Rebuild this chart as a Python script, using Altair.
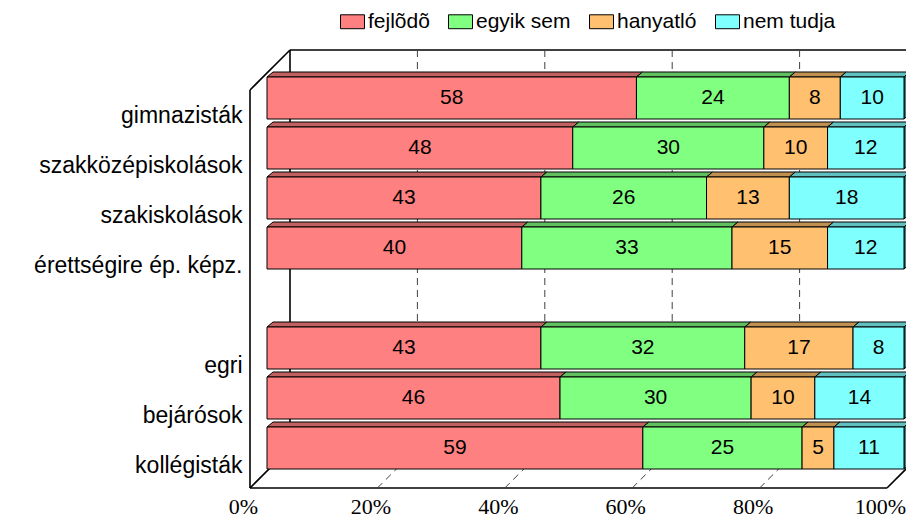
import json
import altair as alt
import pandas as pd

# ---------------- data ----------------
categories = ["gimnazisták", "szakközépiskolások", "szakiskolások",
              "érettségire ép. képz.", "egri", "bejárósok", "kollégisták"]
slots = [0, 1, 2, 3, 5, 6, 7]          # row positions (gap after 4th row)
series = ["fejlõdõ", "egyik sem", "hanyatló", "nem tudja"]
fejlodo = [58, 48, 43, 40, 43, 46, 59]
egyik_sem = [24, 30, 26, 33, 32, 30, 25]
hanyatlo = [8, 10, 13, 15, 17, 10, 5]
nem_tudja = [10, 12, 18, 12, 8, 14, 11]
x_ticks = [0, 20, 40, 60, 80, 100]

front_colors = ["#FF8080", "#80FF80", "#FFC070", "#80FFFF"]
top_colors = ["#C06060", "#60C060", "#C09050", "#60C0C0"]
side_color = "#408080"

# ---------------- layout constants ----------------
PLOT_W, PLOT_H = 637, 438
Y_DOMAIN = [-0.96, 7.8]
PX_X = PLOT_W / 100.0
PX_Y = PLOT_H / (Y_DOMAIN[1] - Y_DOMAIN[0])
HALF = 0.42                 # half bar height (row units)
DX = 6 / PX_X               # 3D depth of bars
DY = 5 / PX_Y
FRONT = -17 / PX_X          # box front plane relative to bars
BACK = 23 / PX_X            # box back plane relative to bars
FLOOR_F = Y_DOMAIN[1]
FLOOR_B = FLOOR_F - 40 / PX_Y
TOP_F = -0.16
TOP_B = Y_DOMAIN[0]
FONT = "Liberation Sans"

values = [fejlodo, egyik_sem, hanyatlo, nem_tudja]

seg_rows, top_rows, side_rows = [], [], []
for i, (cat, k) in enumerate(zip(categories, slots)):
    acc = 0
    for j, s in enumerate(series):
        v = values[j][i]
        x0, x1 = acc, acc + v
        acc = x1
        seg_rows.append(dict(cat=cat, slot=k, series=s, value=v, x0=x0, x1=x1,
                             mid=(x0 + x1) / 2, y0=k - HALF, y1=k + HALF))
        face = f"{i}-{j}"
        top_rows.append(dict(face=face, y=k - HALF, xa=x0, xb=x1, fill=top_colors[j]))
        top_rows.append(dict(face=face, y=k - HALF - DY, xa=x0 + DX, xb=x1 + DX, fill=top_colors[j]))
        if j == len(series) - 1:
            side_rows.append(dict(face=face, x=x1, ya=k - HALF, yb=k + HALF, fill=side_color))
            side_rows.append(dict(face=face, x=x1 + DX, ya=k - HALF - DY, yb=k + HALF - DY, fill=side_color))

seg_df = pd.DataFrame(seg_rows)
top_df = pd.DataFrame(top_rows)
side_df = pd.DataFrame(side_rows)

frame_rows = [
    (FRONT, FLOOR_F, 100 + FRONT, FLOOR_F, "s"),
    (FRONT, TOP_F, FRONT, FLOOR_F, "s"),
    (FRONT, TOP_F, BACK, TOP_B, "s"),
    (BACK, TOP_B, BACK, FLOOR_B, "s"),
    (BACK, TOP_B, 100 + BACK, TOP_B, "s"),
    (FRONT, FLOOR_F, BACK, FLOOR_B, "s"),
    (100 + FRONT, FLOOR_F, 100 + BACK, FLOOR_B, "s"),
    (BACK, FLOOR_B, 100 + BACK, FLOOR_B, "s"),
    (100 + BACK, TOP_B, 100 + BACK, FLOOR_B, "s"),
]
for p in x_ticks[1:-1]:
    frame_rows.append((p + BACK, TOP_B, p + BACK, FLOOR_B, "d"))
    frame_rows.append((p + FRONT, FLOOR_F, p + BACK, FLOOR_B, "d"))
frame_df = pd.DataFrame(frame_rows, columns=["x", "y", "x2", "y2", "kind"])

# ---------------- scales / axes ----------------
xscale = alt.Scale(domain=[0, 100], nice=False, zero=False)
yscale = alt.Scale(domain=Y_DOMAIN, reverse=True, nice=False, zero=False)

slot_labels = [""] * 8
for cat, k in zip(categories, slots):
    slot_labels[k] = cat

xaxis = alt.Axis(values=x_ticks, labelExpr="datum.value + '%'", domain=False, ticks=False,
                 tickSize=0, grid=False, labelPadding=25, labelOffset=-24,
                 labelBaseline="alphabetic", labelFlush=False, labelAlign="center",
                 labelFont="Liberation Sans Narrow", labelFontSize=22,
                 labelColor="black", title=None)
yaxis = alt.Axis(values=slots, labelExpr=json.dumps(slot_labels, ensure_ascii=False) + "[datum.value]",
                 domain=False, ticks=False, tickSize=0, grid=False, labelPadding=25,
                 labelOffset=17, labelFont=FONT, labelFontSize=23, labelColor="black",
                 labelLimit=400, title=None)

# ---------------- layers ----------------
frame_solid = alt.Chart(frame_df).transform_filter("datum.kind == 's'").mark_rule(
    color="black", strokeWidth=1.6).encode(
    x=alt.X("x:Q", scale=xscale, axis=xaxis), y=alt.Y("y:Q", scale=yscale, axis=yaxis),
    x2="x2:Q", y2="y2:Q")
frame_dash = alt.Chart(frame_df).transform_filter("datum.kind == 'd'").mark_rule(
    color="#404040", strokeWidth=1, strokeDash=[7, 5]).encode(
    x=alt.X("x:Q", scale=xscale, axis=xaxis), y=alt.Y("y:Q", scale=yscale, axis=yaxis),
    x2="x2:Q", y2="y2:Q")

tops = alt.Chart(top_df).mark_area(orient="horizontal", stroke="black", strokeWidth=1,
                                   opacity=1).encode(
    y=alt.Y("y:Q", scale=yscale, axis=yaxis),
    x=alt.X("xa:Q", scale=xscale, axis=xaxis), x2="xb:Q",
    detail="face:N", fill=alt.Fill("fill:N", scale=None))

sides = alt.Chart(side_df).mark_area(orient="vertical", stroke="black", strokeWidth=1,
                                     opacity=1).encode(
    x=alt.X("x:Q", scale=xscale, axis=xaxis),
    y=alt.Y("ya:Q", scale=yscale, axis=yaxis), y2="yb:Q",
    detail="face:N", fill=alt.Fill("fill:N", scale=None))

bars = alt.Chart(seg_df).mark_rect(stroke="black", strokeWidth=1, opacity=1).encode(
    x=alt.X("x0:Q", scale=xscale, axis=xaxis), x2="x1:Q",
    y=alt.Y("y0:Q", scale=yscale, axis=yaxis), y2="y1:Q",
    color=alt.Color("series:N", scale=alt.Scale(domain=series, range=front_colors),
                    legend=alt.Legend(orient="none", legendX=73, legendY=-41,
                                      direction="horizontal", columns=4, title=None,
                                      symbolType="M-1,-0.58L1,-0.58L1,0.58L-1,0.58Z",
                                      symbolSize=576, symbolStrokeColor="black",
                                      symbolStrokeWidth=1, symbolOpacity=1,
                                      labelFont=FONT, labelFontSize=21, labelColor="black",
                                      labelOffset=3, columnPadding=16, padding=0,
                                      labelLimit=300)))

labels = alt.Chart(seg_df).mark_text(font=FONT, fontSize=21, color="black").encode(
    x=alt.X("mid:Q", scale=xscale, axis=xaxis),
    y=alt.Y("slot:Q", scale=yscale, axis=yaxis),
    text="value:Q")

chart = alt.layer(frame_solid, frame_dash, tops, sides, bars, labels).properties(
    width=PLOT_W, height=PLOT_H,
    autosize=alt.AutoSizeParams(type="none"),
    padding={"left": 259, "top": 42, "right": 2, "bottom": 30},
    background="white",
).configure_view(strokeWidth=0)

chart.save("out.html", embed_options={"renderer": "svg", "actions": False})
